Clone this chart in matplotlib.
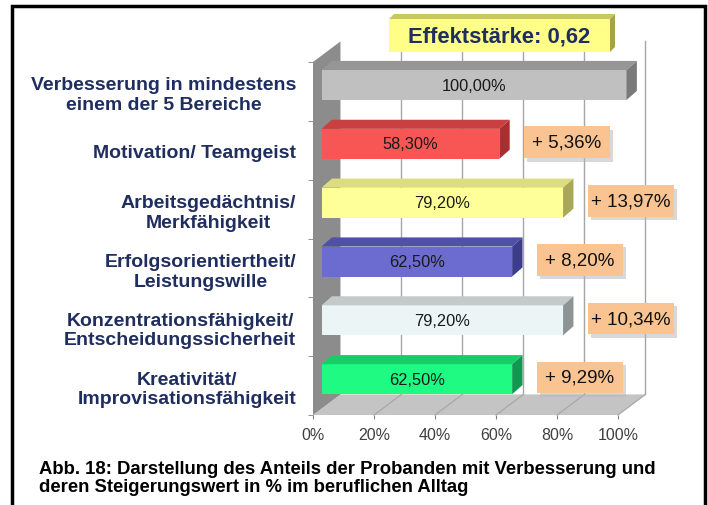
import matplotlib
matplotlib.use("Agg")
import matplotlib.pyplot as plt
from matplotlib.patches import Polygon, Rectangle

plt.rcParams['font.family'] = ['Liberation Sans', 'DejaVu Sans']

# data (top to bottom as in the chart)
categories = [
    "Verbesserung in mindestens\neinem der 5 Bereiche",
    "Motivation/ Teamgeist",
    "Arbeitsgedächtnis/\nMerkfähigkeit",
    "Erfolgsorientiertheit/\nLeistungswille",
    "Konzentrationsfähigkeit/\nEntscheidungssicherheit",
    "Kreativität/\nImprovisationsfähigkeit",
]
shares = [100.0, 58.3, 79.2, 62.5, 79.2, 62.5]
increases = [None, 5.36, 13.97, 8.20, 10.34, 9.29]
x_ticks = [0, 20, 40, 60, 80, 100]
effect_size = 0.62
caption = ["Abb. 18: Darstellung des Anteils der Probanden mit Verbesserung und",
           "deren Steigerungswert in % im beruflichen Alltag"]

face_colors = ['#C0C0C0', '#F85555', '#FFFF99', '#6B6BD0', '#EBF5F5', '#1EFA82']
top_colors = ['#969696', '#C84040', '#DCDC80', '#5050A8', '#C4CACA', '#18CC68']
side_colors = ['#7A7A7A', '#A83030', '#A8A858', '#3C3C8C', '#8E9494', '#109850']
navy = '#1F2D5F'


def de(v, nd):
    return f"{v:.{nd}f}".replace('.', ',')


W, H = 708, 506
fig = plt.figure(figsize=(W / 100, H / 100), dpi=100)
ax = fig.add_axes([313 / W, (H - 416) / H, 305 / W, 353 / H])
n = len(categories)
ax.set_xlim(0, 100)
ax.set_ylim(0, n)

# 3d box: depth of the plot area, position and depth of the bars
DX, DY = 9.0, 0.35
f0 = 0.31
ddx, ddy = 3.4, 0.155
bh = 0.51

# back wall grid + floor grid
for t in x_ticks[1:]:
    ax.plot([t + DX, t + DX], [DY, n + DY], color='#A6A6A6', lw=1, clip_on=False, zorder=1)
ax.add_patch(Polygon([(0, 0), (100, 0), (100 + DX, DY), (DX, DY)], closed=True,
                     fc='#C4C4C4', ec='none', clip_on=False, zorder=2))
for t in x_ticks[1:]:
    ax.plot([t, t + DX], [0, DY], color='#A8A8A8', lw=0.9, clip_on=False, zorder=2.5)
ax.add_patch(Polygon([(0, 0), (DX, DY), (DX, n + DY), (0, n)], closed=True,
                     fc='#8C8C8C', ec='none', clip_on=False, zorder=2))

# bars
x0 = f0 * DX
for k, v in enumerate(shares):
    yc = n - 1 - k + 0.5 + f0 * DY
    ax.barh(yc, v, height=bh, left=x0, color=face_colors[k], zorder=4, clip_on=False)
    top = yc + bh / 2
    bot = yc - bh / 2
    ax.add_patch(Polygon([(x0, top), (x0 + v, top), (x0 + v + ddx, top + ddy), (x0 + ddx, top + ddy)],
                         closed=True, fc=top_colors[k], ec='none', zorder=4, clip_on=False))
    ax.add_patch(Polygon([(x0 + v, bot), (x0 + v + ddx, bot + ddy), (x0 + v + ddx, top + ddy), (x0 + v, top)],
                         closed=True, fc=side_colors[k], ec='none', zorder=4, clip_on=False))
    ax.text(x0 + v / 2, yc, de(v, 2) + "%", ha='center', va='center', fontsize=11.8,
            color='#1A1A1A', zorder=5)

    inc = increases[k]
    if inc is not None:
        bx = v + 10.9
        by = yc + 0.03 - 0.27
        ax.add_patch(Rectangle((bx + 0.9, by - 0.06), 28.2, 0.54, fc='#B8B8B8', alpha=0.55,
                               ec='none', zorder=5, clip_on=False))
        ax.add_patch(Rectangle((bx, by), 28.2, 0.54, fc='#FAC492', ec='none', zorder=6, clip_on=False))
        ax.text(bx + 14.1, by + 0.27, f"+ {de(inc, 2)}%", ha='center', va='center',
                fontsize=13.5, color='#111111', zorder=7)

# axes
for s in ax.spines.values():
    s.set_visible(False)
ax.set_xticks(x_ticks)
ax.set_xticklabels([f"{t}%" for t in x_ticks])
ax.tick_params(axis='x', length=3, color='#808080', labelsize=11.5, labelcolor='#404040', pad=6)
ax.set_yticks([n - 1 - k + 0.5 for k in range(n)])
ax.set_yticklabels(categories, fontsize=14, fontweight='bold', color=navy)
for lbl in ax.get_yticklabels():
    lbl.set_multialignment('center')
ax.set_yticks(range(n + 1), minor=True)
ax.tick_params(axis='y', which='major', length=0, pad=12)
ax.tick_params(axis='y', which='minor', length=3.6, color='#808080')
ax.set_facecolor('none')

# overlay: frame, effect size box, caption
ov = fig.add_axes([0, 0, 1, 1], zorder=5)
ov.set_xlim(0, W)
ov.set_ylim(H, 0)
ov.axis('off')
ov.patch.set_visible(False)
ov.plot([12, 12, 705, 705], [H + 5, 7, 7, H + 5], color='black', lw=2.5, solid_joinstyle='miter')

ov.add_patch(Polygon([(389, 20), (610, 20), (615, 15), (394, 15)], closed=True, fc='#C8C860', ec='none'))
ov.add_patch(Polygon([(610, 20), (615, 15), (615, 48), (610, 53)], closed=True, fc='#A4A444', ec='none'))
ov.add_patch(Rectangle((389, 20), 221, 33, fc='#FFFF88', ec='none'))
ov.text(499.5, 36.5, f"Effektstärke: {de(effect_size, 2)}", ha='center', va='center',
        fontsize=15.8, fontweight='bold', color=navy)

ov.text(39, 470, caption[0], va='center', ha='left', fontsize=13.3, fontweight='bold', color='black')
ov.text(39, 487.5, caption[1], va='center', ha='left', fontsize=13.3, fontweight='bold', color='black')

fig.savefig("out.png", dpi=100, facecolor='white')
